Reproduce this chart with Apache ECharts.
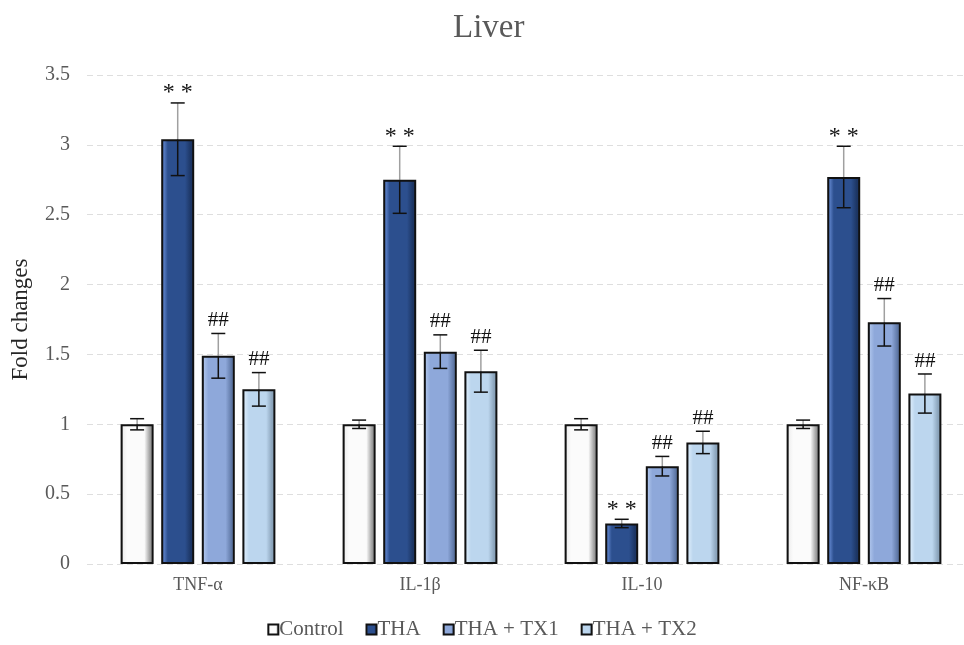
<!DOCTYPE html>
<html>
<head>
<meta charset="utf-8">
<script src="https://cdn.jsdelivr.net/npm/echarts@6/dist/echarts.min.js"></script>
<style>html,body{margin:0;padding:0;background:#fff;}#c{width:964px;height:645px;}</style>
</head>
<body>
<div id="c"></div>
<script>
const categories = ['TNF-α', 'IL-1β', 'IL-10', 'NF-κB'];
const seriesNames = ['Control', 'THA', 'THA + TX1', 'THA + TX2'];
const controlValues = [1.0, 1.0, 1.0, 1.0];
const thaValues = [3.04, 2.75, 0.29, 2.77];
const tx1Values = [1.49, 1.52, 0.70, 1.73];
const tx2Values = [1.25, 1.38, 0.87, 1.22];
const controlErr = [0.04, 0.03, 0.04, 0.03];
const thaErr = [0.26, 0.24, 0.03, 0.22];
const tx1Err = [0.16, 0.12, 0.07, 0.17];
const tx2Err = [0.12, 0.15, 0.08, 0.14];
const controlMarks = ['', '', '', ''];
const thaMarks = ['**', '**', '**', '**'];
const tx1Marks = ['##', '##', '##', '##'];
const tx2Marks = ['##', '##', '##', '##'];
const yTicks = [0, 0.5, 1, 1.5, 2, 2.5, 3, 3.5];

const values = [controlValues, thaValues, tx1Values, tx2Values];
const errs = [controlErr, thaErr, tx1Err, tx2Err];
const marks = [controlMarks, thaMarks, tx1Marks, tx2Marks];

const FONT = '"Liberation Serif", "Times New Roman", serif';
const BAR_W = 33, GAP = 0.23;

function grad(light, mid, dark) {
  return new echarts.graphic.LinearGradient(0, 0, 1, 0, [
    {offset: 0, color: dark},
    {offset: 0.08, color: light},
    {offset: 0.2, color: mid},
    {offset: 0.72, color: mid},
    {offset: 0.9, color: dark},
    {offset: 1, color: dark}
  ]);
}
const fills = [
  grad('#f0f0f0', '#fbfbfb', '#9a9a9a'),
  grad('#5a7fc6', '#2c4f8e', '#1c3563'),
  grad('#a8bfe8', '#8ea8da', '#5f78a6'),
  grad('#d6e8f8', '#bcd6ee', '#8aa3ba')
];

const series = [];
for (let i = 0; i < 4; i++) {
  series.push({
    name: seriesNames[i],
    type: 'bar',
    barWidth: BAR_W,
    barGap: (GAP * 100) + '%',
    data: values[i],
    itemStyle: {color: fills[i], borderColor: '#111', borderWidth: 2},
    emphasis: {disabled: true},
    z: 2
  });
}
for (let i = 0; i < 4; i++) {
  const data = categories.map((c, k) => [k, values[i][k], errs[i][k], marks[i][k]]);
  series.push({
    type: 'custom',
    name: 'err' + i,
    data: data,
    z: 5,
    renderItem: function (params, api) {
      const k = api.value(0);
      const v = api.value(1);
      const e = api.value(2);
      const m = data[params.dataIndex][3];
      const c = api.coord([k, v]);
      const x = c[0] + (i - 1.5) * BAR_W * (1 + GAP);
      const yv = c[1];
      const yt = api.coord([k, v + e])[1];
      const yb = api.coord([k, v - e])[1];
      const cap = 7;
      const children = [
        {type: 'line', shape: {x1: x, y1: yt, x2: x, y2: yv}, style: {stroke: '#a0a0a0', lineWidth: 1.5}},
        {type: 'line', shape: {x1: x, y1: yv, x2: x, y2: yb}, style: {stroke: '#111', lineWidth: 1.5}},
        {type: 'line', shape: {x1: x - cap, y1: yt, x2: x + cap, y2: yt}, style: {stroke: '#111', lineWidth: 1.5}},
        {type: 'line', shape: {x1: x - cap, y1: yb, x2: x + cap, y2: yb}, style: {stroke: '#111', lineWidth: 1.5}}
      ];
      if (m) {
        children.push({type: 'text', style: {text: m === '**' ? '* *' : m, x: x, y: m === '**' ? yt - 10 : yt - 13,
          align: 'center', verticalAlign: 'middle',
          font: (m === '**' ? '24px ' : '21px ') + FONT, fill: '#111'}});
      }
      return {type: 'group', children: children};
    }
  });
}

const chart = echarts.init(document.getElementById('c'));
chart.setOption({
  animation: false,
  backgroundColor: '#fff',
  title: {
    text: 'Liver', left: 448, top: 7,
    textStyle: {fontFamily: FONT, fontSize: 33, fontWeight: 'normal', color: '#595959'}
  },
  legend: {
    data: seriesNames, bottom: 0, left: 'center',
    icon: 'rect',
    itemWidth: 10, itemHeight: 10, itemGap: 22,
    textStyle: {fontFamily: FONT, fontSize: 21, color: '#595959', padding: [0, 0, 0, -4]}
  },
  grid: {left: 87, top: 75, width: 888, height: 489, containLabel: false, outerBoundsMode: 'none'},
  xAxis: {
    type: 'category', data: categories,
    axisLine: {show: false}, axisTick: {show: false},
    axisLabel: {fontFamily: FONT, fontSize: 18, color: '#595959', margin: 12}
  },
  yAxis: {
    type: 'value', min: 0, max: 3.5, interval: 0.5,
    name: 'Fold changes', nameLocation: 'middle', nameGap: 55, nameRotate: 90,
    nameTextStyle: {fontFamily: FONT, fontSize: 23, color: '#262626'},
    axisLine: {show: false}, axisTick: {show: false},
    axisLabel: {fontFamily: FONT, fontSize: 20, color: '#595959', margin: 17,
      formatter: v => (yTicks.indexOf(v) >= 0 ? String(v) : '')},
    splitLine: {lineStyle: {color: '#dedede', type: [6, 4], width: 1}}
  },
  series: series
});
</script>
</body>
</html>
